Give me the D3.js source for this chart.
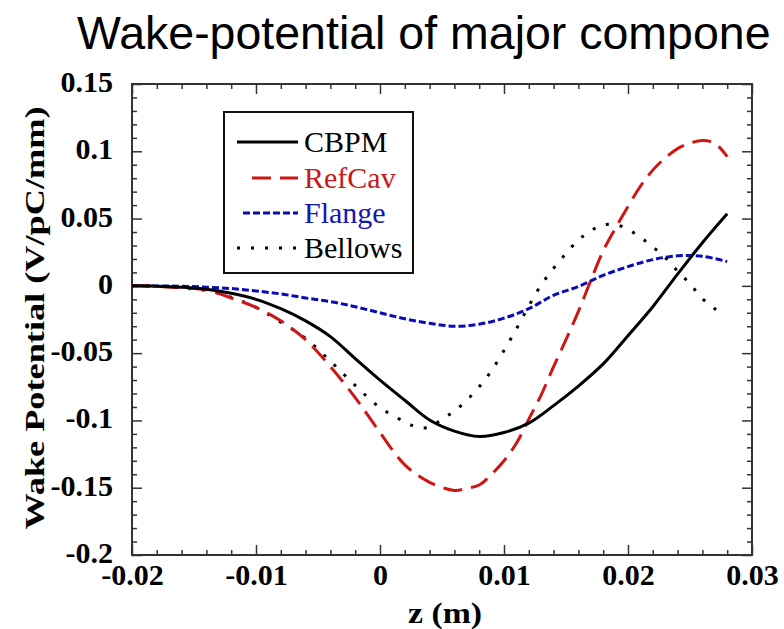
<!DOCTYPE html>
<html><head><meta charset="utf-8">
<script src="https://cdn.jsdelivr.net/npm/d3@7"></script>
<style>body{margin:0;background:#fff}svg{display:block}
.serif{font-family:"Liberation Serif","Times New Roman",Times,serif}
.sans{font-family:"Liberation Sans",Arial,Helvetica,sans-serif}
</style>
</head><body>
<svg id="c" width="784" height="629"></svg>
<script>
// ---- data ----
const titleText = "Wake-potential of major compone";
const seriesNames = ["CBPM", "RefCav", "Flange", "Bellows"];
const zCBPM = [-0.02,-0.018,-0.016,-0.014,-0.012,-0.01,-0.008,-0.006,-0.004,-0.002,0,0.002,0.004,0.006,0.008,0.01,0.012,0.014,0.016,0.018,0.02,0.022,0.024,0.026,0.028];
const vCBPM = [0,-0.0002,-0.001,-0.0025,-0.0055,-0.010,-0.017,-0.026,-0.0377,-0.054,-0.070,-0.085,-0.0997,-0.108,-0.112,-0.109,-0.102,-0.089,-0.0745,-0.058,-0.037,-0.0155,0.0087,0.032,0.0535];
const zRefCav = [-0.02,-0.018,-0.016,-0.014,-0.012,-0.01,-0.008,-0.006,-0.004,-0.002,0,0.002,0.004,0.006,0.007,0.008,0.009,0.01,0.011,0.012,0.013,0.014,0.015,0.016,0.017,0.018,0.019,0.02,0.021,0.022,0.023,0.024,0.025,0.026,0.027,0.028];
const vRefCav = [0,-0.0003,-0.0015,-0.003,-0.009,-0.016,-0.026,-0.040,-0.060,-0.083,-0.109,-0.133,-0.146,-0.152,-0.1505,-0.148,-0.140,-0.130,-0.117,-0.099,-0.081,-0.060,-0.040,-0.019,0.004,0.026,0.043,0.059,0.074,0.086,0.095,0.102,0.106,0.108,0.106,0.096];
const zFlange = [-0.02,-0.018,-0.016,-0.014,-0.012,-0.01,-0.008,-0.006,-0.004,-0.002,0,0.002,0.004,0.006,0.008,0.01,0.012,0.014,0.016,0.018,0.02,0.022,0.024,0.026,0.028];
const vFlange = [0,-0.0001,-0.0003,-0.001,-0.002,-0.0038,-0.006,-0.009,-0.0117,-0.0155,-0.020,-0.0245,-0.0278,-0.030,-0.0285,-0.024,-0.017,-0.007,-0.0005,0.0078,0.0143,0.0195,0.0223,0.022,0.018];
const zBellows = [-0.02,-0.018,-0.016,-0.014,-0.012,-0.01,-0.008,-0.006,-0.004,-0.002,0,0.002,0.003,0.004,0.005,0.006,0.007,0.008,0.009,0.01,0.011,0.012,0.013,0.014,0.015,0.016,0.017,0.018,0.019,0.02,0.021,0.022,0.023,0.024,0.025,0.026,0.027,0.0277];
const vBellows = [0,-0.0003,-0.0015,-0.0035,-0.0085,-0.016,-0.027,-0.039,-0.056,-0.074,-0.0905,-0.101,-0.105,-0.105,-0.099,-0.093,-0.085,-0.075,-0.063,-0.048,-0.032,-0.015,0.0007,0.013,0.024,0.034,0.041,0.0453,0.0455,0.042,0.036,0.029,0.021,0.011,0.0015,-0.0095,-0.017,-0.0224];
const xTickValues = [-0.02,-0.01,0,0.01,0.02,0.03];
const xTickLabels = ["-0.02","-0.01","0","0.01","0.02","0.03"];
const xMinorValues = [-0.018,-0.016,-0.014,-0.012,-0.008,-0.006,-0.004,-0.002,0.002,0.004,0.006,0.008,0.012,0.014,0.016,0.018,0.022,0.024,0.026,0.028];
const yTickValues = [0.15,0.1,0.05,0,-0.05,-0.1,-0.15,-0.2];
const yTickLabels = ["0.15","0.1","0.05","0","-0.05","-0.1","-0.15","-0.2"];
const yMinorValues = [0.14,0.13,0.12,0.11,0.09,0.08,0.07,0.06,0.04,0.03,0.02,0.01,-0.01,-0.02,-0.03,-0.04,-0.06,-0.07,-0.08,-0.09,-0.11,-0.12,-0.13,-0.14,-0.16,-0.17,-0.18,-0.19];
const xTitle = "z (m)";
const yTitle = "Wake Potential (V/pC/mm)";

// ---- layout ----
const L = 132, R = 752, T = 84, B = 555;
const svg = d3.select("#c");
const x = d3.scaleLinear().domain([-0.02, 0.03]).range([L, R]);
const y = d3.scaleLinear().domain([-0.2, 0.15]).range([B, T]);

svg.append("text").attr("class", "sans").attr("x", 77).attr("y", 49)
  .attr("font-size", 46.5).attr("fill", "#000").text(titleText);

function styleAxis(g) {
  g.select(".domain").remove();
  g.selectAll(".tick line").attr("stroke", "#333").attr("stroke-width", 1.5);
  g.selectAll("text").attr("font-family", null).attr("class", "serif").attr("font-weight", "bold")
    .attr("font-size", 30).attr("fill", "#000");
}
// bottom
svg.append("g").attr("transform", `translate(0,${B})`)
  .call(d3.axisBottom(x).tickValues(xMinorValues).tickSize(-5).tickFormat("")).call(styleAxis);
svg.append("g").attr("transform", `translate(0,${B})`)
  .call(d3.axisBottom(x).tickValues(xTickValues).tickSize(-10).tickPadding(9)
    .tickFormat((d, i) => xTickLabels[i])).call(styleAxis);
// top
svg.append("g").attr("transform", `translate(0,${T})`)
  .call(d3.axisTop(x).tickValues(xMinorValues).tickSize(-5).tickFormat("")).call(styleAxis);
svg.append("g").attr("transform", `translate(0,${T})`)
  .call(d3.axisTop(x).tickValues(xTickValues).tickSize(-10).tickFormat("")).call(styleAxis);
// left
svg.append("g").attr("transform", `translate(${L},0)`)
  .call(d3.axisLeft(y).tickValues(yMinorValues).tickSize(-5).tickFormat("")).call(styleAxis);
const gl = svg.append("g").attr("transform", `translate(${L},0)`)
  .call(d3.axisLeft(y).tickValues(yTickValues).tickSize(-10).tickPadding(19)
    .tickFormat((d, i) => yTickLabels[i])).call(styleAxis);
gl.selectAll("text").attr("dy", "0.25em");
// right
svg.append("g").attr("transform", `translate(${R},0)`)
  .call(d3.axisRight(y).tickValues(yMinorValues).tickSize(-5).tickFormat("")).call(styleAxis);
svg.append("g").attr("transform", `translate(${R},0)`)
  .call(d3.axisRight(y).tickValues(yTickValues).tickSize(-10).tickFormat("")).call(styleAxis);
svg.selectAll("g").attr("font-family", null);

// frame
svg.append("rect").attr("x", L).attr("y", T).attr("width", R - L).attr("height", B - T)
  .attr("fill", "none").attr("stroke", "#333").attr("stroke-width", 2);

// axis titles
svg.append("text").attr("class", "serif").attr("x", 445).attr("y", 623).attr("text-anchor", "middle")
  .attr("font-weight", "bold").attr("font-size", 30)
  .attr("textLength", 74).attr("lengthAdjust", "spacingAndGlyphs").text(xTitle);
svg.append("text").attr("class", "serif").attr("transform", "translate(44,318) rotate(-90)").attr("text-anchor", "middle")
  .attr("font-weight", "bold").attr("font-size", 28)
  .attr("textLength", 423).attr("lengthAdjust", "spacingAndGlyphs").text(yTitle);

// series
const styles = {
  CBPM: { color: "#000", dash: null },
  RefCav: { color: "#d01515", dash: "19,9" },
  Flange: { color: "#0a0ab8", dash: "7,3" },
  Bellows: { color: "#000", dash: "3,11" }
};
const series = [
  { name: "CBPM", z: zCBPM, v: vCBPM },
  { name: "RefCav", z: zRefCav, v: vRefCav },
  { name: "Flange", z: zFlange, v: vFlange },
  { name: "Bellows", z: zBellows, v: vBellows }
];
const line = d3.line().x(d => x(d[0])).y(d => y(d[1])).curve(d3.curveCatmullRom.alpha(0.5));
const drawOrder = ["Flange", "Bellows", "RefCav", "CBPM"];
drawOrder.forEach(n => {
  const s = series.find(q => q.name === n);
  svg.append("path").datum(s.z.map((z, i) => [z, s.v[i]]))
    .attr("d", line).attr("fill", "none")
    .attr("stroke", styles[n].color).attr("stroke-width", 3)
    .attr("stroke-dasharray", styles[n].dash);
});

// legend
svg.append("rect").attr("x", 224).attr("y", 112).attr("width", 189).attr("height", 161)
  .attr("fill", "#fff").attr("stroke", "#111").attr("stroke-width", 2);
const legY = [142, 178, 213, 248];
const legX0 = [237, 252, 243, 237];
seriesNames.forEach((n, i) => {
  svg.append("line").attr("x1", legX0[i]).attr("x2", 298).attr("y1", legY[i]).attr("y2", legY[i])
    .attr("stroke", styles[n].color).attr("stroke-width", 3)
    .attr("stroke-dasharray", styles[n].dash);
  svg.append("text").attr("class", "serif").attr("x", 304).attr("y", legY[i] + 10)
    .attr("font-size", 30)
    .attr("fill", n === "RefCav" ? "#c81818" : n === "Flange" ? "#1515b0" : "#000").text(n);
});
</script>
</body></html>
